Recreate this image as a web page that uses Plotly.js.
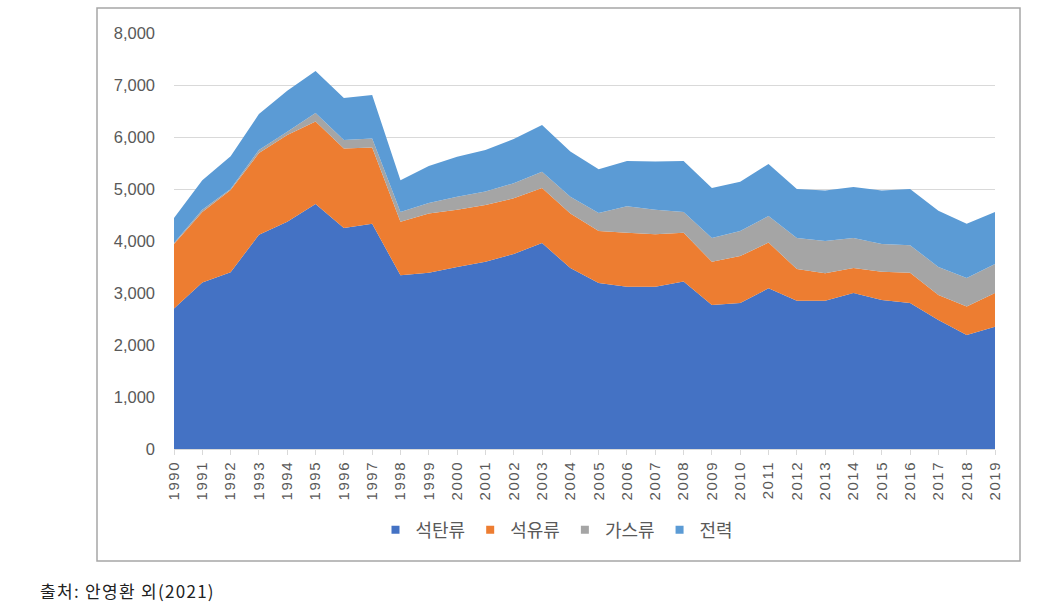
<!DOCTYPE html>
<html>
<head>
<meta charset="utf-8">
<script src="https://cdn.plot.ly/plotly-3.0.1.min.js"></script>
<style>
html,body{margin:0;padding:0;background:#fff;}
#chart{width:1046px;height:615px;}
.xtick text{letter-spacing:1.5px;}
.annotation-text{letter-spacing:1.3px;}
</style>
</head>
<body>
<div id="chart"></div>
<script>
const years = [1990,1991,1992,1993,1994,1995,1996,1997,1998,1999,2000,2001,2002,2003,2004,2005,2006,2007,2008,2009,2010,2011,2012,2013,2014,2015,2016,2017,2018,2019];
const coal = [2700,3200,3400,4120,4370,4710,4250,4330,3340,3390,3500,3600,3750,3960,3480,3190,3120,3120,3220,2770,2810,3090,2850,2850,3000,2865,2810,2480,2190,2350];
const oil = [1240,1360,1580,1570,1670,1590,1530,1470,1030,1140,1100,1090,1070,1060,1050,1000,1040,1010,940,830,900,880,610,530,480,545,580,480,550,650];
const gas = [20,40,20,60,60,160,160,170,190,200,250,260,290,310,320,350,510,470,400,460,480,510,600,620,580,530,530,540,550,560];
const elec = [480,570,630,690,790,810,810,840,610,710,770,800,850,900,870,840,870,930,980,960,950,1000,940,970,980,1030,1080,1080,1040,1000];
const names = ['석탄류','석유류','가스류','전력'];
const colors = ['#4472C4','#ED7D31','#A5A5A5','#5B9BD5'];
const series = [coal, oil, gas, elec];
const yTicks = [0,1000,2000,3000,4000,5000,6000,7000,8000];

const traces = [];
series.forEach((s,i)=>{
  traces.push({x:years, y:s, type:'scatter', mode:'lines', stackgroup:'one',
    line:{width:0, color:colors[i]}, fillcolor:colors[i], name:names[i], showlegend:false, hoverinfo:'x+y'});
});
series.forEach((s,i)=>{
  traces.push({x:[null], y:[null], type:'scatter', mode:'markers', name:names[i],
    marker:{symbol:'square', size:8, color:colors[i]}, showlegend:true});
});

const W=1046, H=615, L=174, R=995, T=33, B=449;
const px=(x)=>(x-L)/(R-L), py=(y)=>(B-y)/(B-T);

const layout = {
  width:W, height:H,
  margin:{l:L, r:W-R, t:T, b:H-B},
  paper_bgcolor:'#fff', plot_bgcolor:'rgba(0,0,0,0)',
  font:{family:'"Noto Sans CJK KR", "Liberation Sans", sans-serif', color:'#595959'},
  xaxis:{range:[1990,2019], tickmode:'array', tickvals:years, ticktext:years.map(String),
    tickangle:-90, ticks:'outside', ticklen:5, tickcolor:'#d9d9d9', showgrid:false,
    showline:true, linecolor:'#d9d9d9', linewidth:1, zeroline:false,
    tickfont:{family:'"Liberation Sans", sans-serif', size:15, color:'#595959'}, fixedrange:true},
  yaxis:{range:[0,8000], tickmode:'array', tickvals:yTicks, tickformat:',', showgrid:true,
    gridcolor:'#d9d9d9', gridwidth:1, zeroline:false, showline:false, ticks:'',
    ticklabelstandoff:18,
    tickfont:{family:'"Liberation Sans", sans-serif', size:16.5, color:'#595959'}, fixedrange:true},
  legend:{orientation:'h', x:px(557), xanchor:'center', y:py(530), yanchor:'middle',
    font:{family:'"Noto Sans CJK KR", sans-serif', size:18, color:'#595959'},
    itemwidth:30, traceorder:'normal', bgcolor:'rgba(0,0,0,0)'},
  shapes:[{type:'rect', xref:'paper', yref:'paper', x0:px(97), x1:px(1020), y0:py(561), y1:py(8),
    line:{color:'#a6a6a6', width:1.5}, fillcolor:'rgba(0,0,0,0)', layer:'below'}],
  annotations:[{xref:'paper', yref:'paper', x:px(38), y:py(590), xanchor:'left', yanchor:'middle',
    text:'출처: 안영환 외(2021)', showarrow:false,
    font:{family:'"Noto Sans CJK KR", sans-serif', size:17, color:'#222'}}]
};
Plotly.newPlot('chart', traces, layout, {displayModeBar:false, staticPlot:true});
</script>
</body>
</html>
